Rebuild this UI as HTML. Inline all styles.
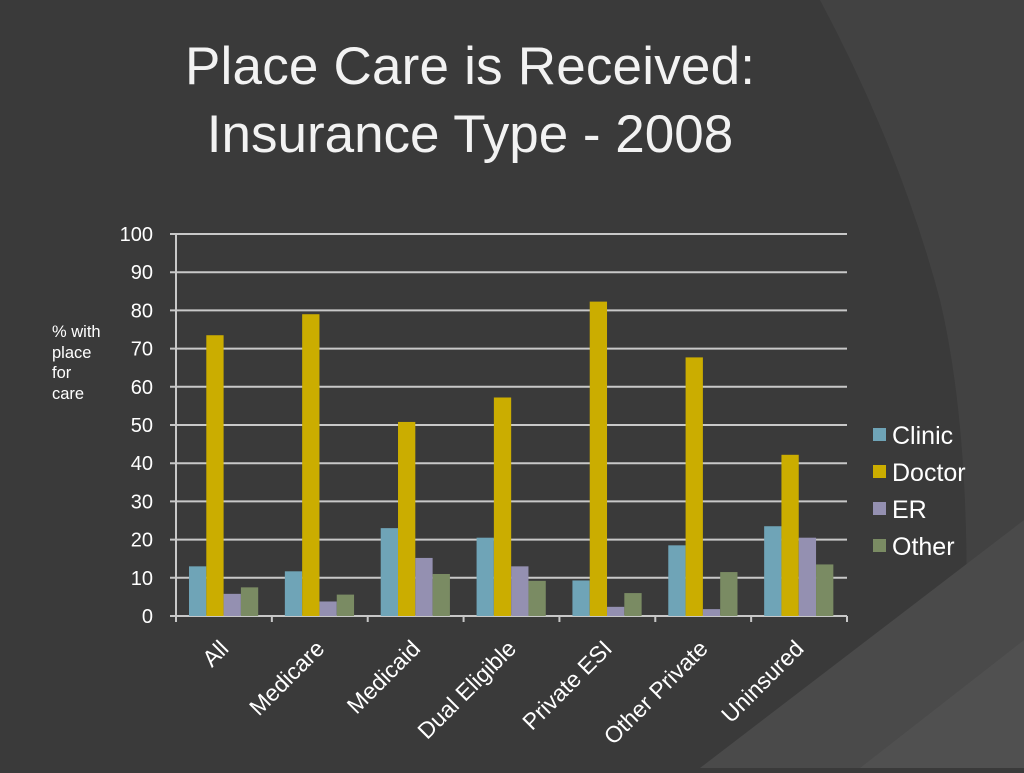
<!DOCTYPE html>
<html><head><meta charset="utf-8"><style>
body{margin:0;width:1024px;height:768px;overflow:hidden;background:#3a3a3a;font-family:"Liberation Sans",sans-serif}
</style></head><body>
<svg width="1024" height="768" xmlns="http://www.w3.org/2000/svg">
<rect width="1024" height="768" fill="#3a3a3a"/>
<path d="M820,0 Q900,150 940,300 Q980,470 960,768 L1024,768 L1024,0 Z" fill="#424242"/>
<path d="M1024,520 L700,768 L1024,768 Z" fill="#4a4a4a"/>
<path d="M1024,640 L860,768 L1024,768 Z" fill="#505050"/>
<text x="470" y="84" font-size="53" fill="#f2f2f2" text-anchor="middle" textLength="570">Place Care is Received:</text>
<text x="470" y="152" font-size="53" fill="#f2f2f2" text-anchor="middle">Insurance Type - 2008</text>
<g font-size="16.5" fill="#fff">
<text x="52" y="337">% with</text><text x="52" y="358">place</text><text x="52" y="378">for</text><text x="52" y="399">care</text>
</g>
<g id="chart"></g>
</svg>
<script>
const categories=["All","Medicare","Medicaid","Dual Eligible","Private ESI","Other Private","Uninsured"];
const seriesNames=["Clinic","Doctor","ER","Other"];
const clinic=[13,11.7,23,20.5,9.3,18.5,23.5];
const doctor=[73.5,79,50.8,57.2,82.3,67.7,42.2];
const er=[5.8,3.8,15.2,13,2.4,1.8,20.5];
const other=[7.5,5.6,11,9.2,6,11.5,13.5];
const yTicks=[0,10,20,30,40,50,60,70,80,90,100];
const colors=["#6fa4b7","#cbad00","#9490b1","#7a8b63"];
const NS="http://www.w3.org/2000/svg";
const g=document.getElementById('chart');
const x0=176,x1=847,yB=616,yT=234;
const y=v=>yB-(v/100)*(yB-yT);
const bw=(x1-x0)/categories.length;
function mk(t,a,p){const e=document.createElementNS(NS,t);for(const k in a)e.setAttribute(k,a[k]);(p||g).appendChild(e);return e;}
yTicks.forEach(t=>{
 const l=mk('line',{x1:x0-6,x2:x1,y1:y(t),y2:y(t),stroke:'#c8c8c8','stroke-width':2});
 
 
 const tx=mk('text',{x:153,y:y(t)+7,'font-size':20,fill:'#fff','text-anchor':'end'});
 tx.textContent=t;
 
 
});
const ax=mk('line',{x1:x0,x2:x0,y1:yT,y2:yB+6,stroke:'#c8c8c8','stroke-width':2});


for(let i=0;i<=categories.length;i++){
 const t=mk('line',{x1:x0+i*bw,x2:x0+i*bw,y1:yB,y2:yB+6,stroke:'#c8c8c8','stroke-width':2});
 
 
}
const series=[clinic,doctor,er,other];
const barW=17.3,off=13;
categories.forEach((c,i)=>{
 series.forEach((s,j)=>{
  const r=mk('rect',{x:x0+i*bw+off+j*barW,y:y(s[i]),width:barW,height:yB-y(s[i]),fill:colors[j]});
  
  
 });
 const cx=x0+(i+0.5)*bw+6;
 const cy=yB+34;
 const tx=mk('text',{x:cx,y:cy,'font-size':23,fill:'#fff','text-anchor':'end',transform:`rotate(-45 ${cx} ${cy})`});
 tx.textContent=c;
 
 
});
seriesNames.forEach((n,j)=>{
 const ly=435+j*37;
 const r=mk('rect',{x:873,y:ly-7,width:13,height:13,fill:colors[j]});
 
 
 const t=mk('text',{x:892,y:ly+9,'font-size':25,fill:'#fff'});
 t.textContent=n;
 
 
});
</script>
</body></html>
